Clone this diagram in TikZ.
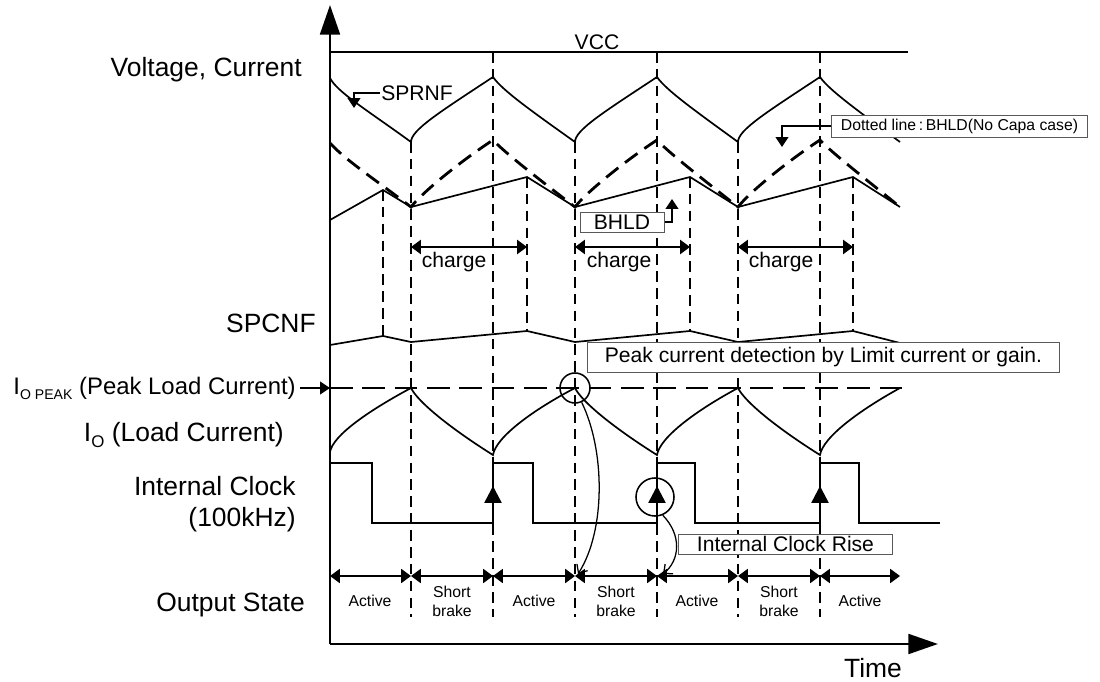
\documentclass[tikz,border=0pt]{standalone}
\usepackage{fontspec}
\setmainfont{Liberation Sans}
\usetikzlibrary{arrows.meta}

\tikzset{
  lbl/.style={font=\fontsize{18.8}{22.5}\selectfont, inner sep=0pt},
  txt/.style={font=\fontsize{15}{17}\selectfont},
  tiny/.style={font=\fontsize{11.2}{13.5}\selectfont},
  wave/.style={line width=1.2pt},
  clock/.style={line width=1.5pt},
  nocapa/.style={line width=2pt, dash pattern=on 11pt off 6pt},
  guide/.style={line width=2pt, dash pattern=on 7.5pt off 4.5pt},
  peakline/.style={line width=2pt, dash pattern=on 16pt off 7pt},
  tag/.style={draw=black!65, line width=0.7pt, fill=white, inner sep=0pt},
  ring/.style={circle, draw, line width=1.1pt, inner sep=0pt},
  lead/.style={line width=1.2pt, -{Triangle[length=7pt,width=9pt]}},
  span/.style={line width=1.2pt, {Triangle[length=7pt,width=10pt]}-{Triangle[length=7pt,width=10pt]}},
  rise/.style={line width=1.8pt, -{Triangle[length=12pt,width=12pt]}},
  bent/.style={line width=0.9pt, -{Straight Barb[length=5pt,width=9pt]}},
  axis/.style={line width=2pt, -{Triangle[length=21pt,width=14pt]}},
}

\begin{document}
\begin{tikzpicture}[x=0.025cm, y=-0.025cm]
\useasboundingbox (0,0) rectangle (1100,682);

% axes
\coordinate (O) at (330,644);
\coordinate (ytop) at (330,5);
\coordinate (xend) at (938,644);
\draw[axis] (O) -- (ytop);
\draw[axis] (O) -- (xend);

% left labels
\node[lbl, anchor=east] (volt) at (302,70) {Voltage, Current};
\node[lbl, anchor=east] (spcnf) at (316,323) {SPCNF};
\node[lbl, anchor=east, font=\fontsize{17}{20}\selectfont] (iopk) at (296,388)
  {I\raisebox{-0.4ex}{\fontsize{10}{10}\selectfont O PEAK} (Peak Load Current)};
\node[lbl, anchor=east] (io) at (284,435) {I\raisebox{-0.4ex}{\fontsize{12}{12}\selectfont O} (Load Current)};
\node[lbl, anchor=east, align=right] (clk) at (296,504) {Internal Clock\\(100kHz)};
\node[lbl, anchor=east] (out) at (305,605) {Output State};
\node[lbl] (time) at (873,668) {Time};

% dashed time marks
\draw[guide] (493,52) -- (493,617);
\draw[guide] (657,52) -- (657,617);
\draw[guide] (820,52) -- (820,617);
\draw[guide] (411,142) -- (411,617);
\draw[guide] (575,142) -- (575,617);
\draw[guide] (738,142) -- (738,617);
\draw[guide] (383,190) -- (383,336);
\draw[guide] (527,177) -- (527,331);
\draw[guide] (690,177) -- (690,331);
\draw[guide] (853,177) -- (853,331);

% VCC
\draw[wave] (330,52) -- (908,52);
\node[txt] (vcc) at (597,42) {VCC};

% SPRNF
\draw[wave] (330,78) .. controls (337,92) and (367,110) .. (411,142)
  .. controls (411,130) and (440,112) .. (493,77)
  .. controls (502,90) and (530,110) .. (575,142)
  .. controls (575,130) and (604,112) .. (657,77)
  .. controls (666,90) and (694,110) .. (738,142)
  .. controls (738,130) and (767,112) .. (820,77)
  .. controls (829,90) and (857,110) .. (900,142);
\node[txt, inner sep=1pt] (sprnf) at (417,93) {SPRNF};

% BHLD, no capa
\draw[nocapa] (330,143) .. controls (345,160) and (380,183) .. (411,207)
  .. controls (420,195) and (455,165) .. (493,140)
  .. controls (505,153) and (540,180) .. (575,207)
  .. controls (584,195) and (619,165) .. (657,140)
  .. controls (669,153) and (704,180) .. (738,207)
  .. controls (747,195) and (782,165) .. (820,140)
  .. controls (832,153) and (867,180) .. (900,207);

% BHLD
\draw[wave] (330,220) -- (383,190) -- (411,207) -- (527,177) -- (575,207)
  -- (690,177) -- (738,207) -- (853,177) -- (900,207);

% SPCNF
\draw[wave] (330,345) -- (383,336) -- (411,342) -- (527,331) -- (575,342)
  -- (690,331) -- (738,342) -- (853,331) -- (900,343);

% charge spans
\coordinate (ch1a) at (411,247);
\coordinate (ch1b) at (527,247);
\coordinate (ch2a) at (575,247);
\coordinate (ch2b) at (690,247);
\coordinate (ch3a) at (738,247);
\coordinate (ch3b) at (853,247);
\draw[span, line width=1.4pt] (ch1a) -- (ch1b);
\draw[span, line width=1.4pt] (ch2a) -- (ch2b);
\draw[span, line width=1.4pt] (ch3a) -- (ch3b);
\node[txt] (ch1) at (454,262) {charge};
\node[txt] (ch2) at (619,262) {charge};
\node[txt] (ch3) at (781,262) {charge};

% load current
\draw[peakline] (330,388) -- (910,388);
\draw[wave] (330,452) .. controls (333,435) and (370,410) .. (411,388)
  .. controls (418,402) and (450,428) .. (493,455)
  .. controls (496,437) and (533,410) .. (575,388)
  .. controls (582,402) and (614,428) .. (657,455)
  .. controls (660,437) and (697,410) .. (738,388)
  .. controls (745,402) and (777,428) .. (820,455)
  .. controls (823,437) and (860,410) .. (900,388);
\coordinate (pkAxis) at (330,388);
\draw[lead, shorten <=3pt] (iopk.east) -- (pkAxis);

% internal clock
\draw[clock] (330,463) -- (372,463) -- (372,523) -- (493,523) -- (493,463)
  -- (533,463) -- (533,523) -- (657,523) -- (657,463) -- (695,463)
  -- (695,523) -- (820,523) -- (820,463) -- (859,463) -- (859,523) -- (940,523);
\coordinate (r1) at (493,523);
\coordinate (r1t) at (493,486);
\coordinate (r2) at (657,523);
\coordinate (r2t) at (657,486);
\coordinate (r3) at (820,523);
\coordinate (r3t) at (820,486);
\draw[rise] (r1) -- (r1t);
\draw[rise] (r2) -- (r2t);
\draw[rise] (r3) -- (r3t);

% output state
\coordinate (s0) at (330,576);
\coordinate (s1) at (411,576);
\coordinate (s2) at (493,576);
\coordinate (s3) at (575,576);
\coordinate (s4) at (657,576);
\coordinate (s5) at (738,576);
\coordinate (s6) at (820,576);
\coordinate (s7) at (900,576);
\draw[span] (s0) -- (s1);
\draw[span] (s1) -- (s2);
\draw[span] (s2) -- (s3);
\draw[span] (s3) -- (s4);
\draw[span] (s4) -- (s5);
\draw[span] (s5) -- (s6);
\draw[span] (s6) -- (s7);
\node[tiny] (a1) at (370,601) {Active};
\node[tiny, align=center] (b1) at (452,601) {Short\\brake};
\node[tiny] (a2) at (534,601) {Active};
\node[tiny, align=center] (b2) at (616,601) {Short\\brake};
\node[tiny] (a3) at (697,601) {Active};
\node[tiny, align=center] (b3) at (779,601) {Short\\brake};
\node[tiny] (a4) at (860,601) {Active};

% tags
\node[tag, txt, minimum width=2.1cm, minimum height=0.5cm] (bhld) at (622,222) {BHLD};
\node[tag, tiny, minimum width=6.375cm, minimum height=0.55cm] (dotted) at (959.5,126) {Dotted line\,:\,BHLD(No Capa case)};
\node[tag, txt, minimum width=11.775cm, minimum height=0.75cm] (peak) at (823.5,357) {Peak current detection by Limit current or gain.};
\node[tag, txt, minimum width=5.325cm, minimum height=0.5cm] (ckrise) at (785.5,544) {Internal Clock Rise};

% leaders
\coordinate (sprnfTip) at (354,108);
\coordinate (dotTip) at (782,147);
\coordinate (bhldTip) at (672,199);
\draw[lead] (sprnf.west) -| (sprnfTip);
\draw[lead] (dotted.west) -| (dotTip);
\draw[lead] (bhld.east) -| (bhldTip);

% rings and pointers
\node[ring, minimum size=0.75cm] (pkring) at (575,388) {};
\node[ring, minimum size=0.95cm] (ckring) at (655,497) {};
\coordinate (pkEnd) at (578,574);
\coordinate (ckEnd) at (663,574);
\draw[bent] (pkring.-65) .. controls (605,450) and (606,530) .. (pkEnd);
\draw[bent] (ckring.-67) .. controls (682,535) and (680,560) .. (ckEnd);
\end{tikzpicture}
\end{document}
